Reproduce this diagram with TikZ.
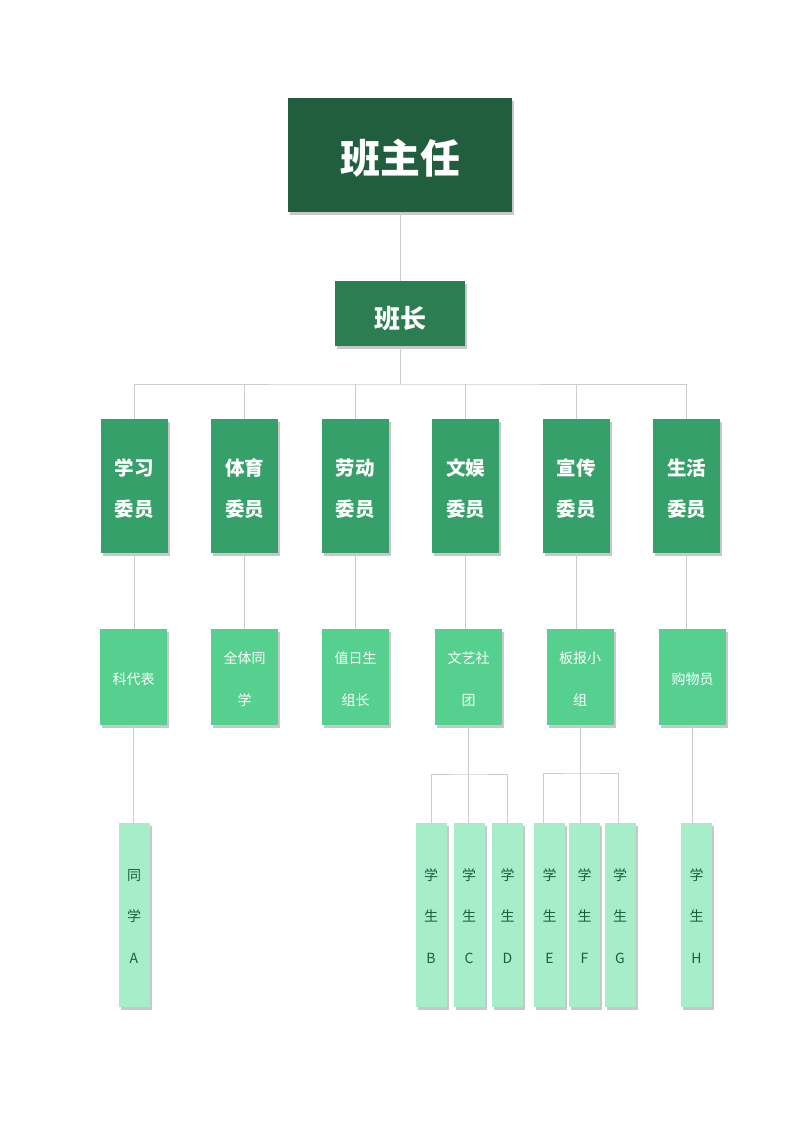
\documentclass[tikz,border=0pt]{standalone}
\usepackage{fontspec}
\newfontfamily\cjk{Noto Sans CJK SC}
\usetikzlibrary{shadows}
\definecolor{cTop}{HTML}{215E3E}
\definecolor{cMon}{HTML}{2B7D52}
\definecolor{cL3}{HTML}{35A06A}
\definecolor{cL4}{HTML}{56D08F}
\definecolor{cL5}{HTML}{A6EDC9}
\definecolor{cTxt5}{HTML}{1E5E3A}
\definecolor{cLine}{HTML}{CCCCCC}
\tikzset{
  box/.style={inner sep=0pt, align=center, drop shadow={shadow xshift=2pt, shadow yshift=-3pt, opacity=0.3, fill=black!70}},
  topbox/.style={box, fill=cTop, minimum width=224pt, minimum height=114pt,
    label={[text=white, font=\cjk\bfseries\fontsize{40}{48}\selectfont, yshift=-3pt]center:#1}},
  monbox/.style={box, fill=cMon, minimum width=130pt, minimum height=65pt,
    label={[text=white, font=\cjk\bfseries\fontsize{26}{32}\selectfont, yshift=-5pt]center:#1}},
  lvthree/.style={box, fill=cL3, minimum width=67pt, minimum height=134pt,
    label={[text=white, align=center, font=\cjk\bfseries\fontsize{19.5}{41}\selectfont, yshift=-3pt]center:#1}},
  lvfour/.style={box, fill=cL4, minimum width=67pt, minimum height=96pt,
    label={[text=white, align=center, font=\cjk\fontsize{14}{42}\selectfont, yshift=-2pt]center:#1}},
  lvfive/.style={box, fill=cL5, minimum width=31pt, minimum height=184pt,
    label={[text=cTxt5, align=center, font=\cjk\fontsize{14}{41.5}\selectfont, yshift=-1pt]center:#1}},
  conn/.style={draw=cLine, line width=0.8pt}
}
\begin{document}
\begin{tikzpicture}[x=1pt,y=-1pt]
\useasboundingbox[fill=white] (0,0) rectangle (800,1131);
% level 1-2
\node[topbox={班主任}] (head) at (400,155) {};
\node[monbox={班长}] (mon) at (400,313.5) {};
% level 3
\node[lvthree={学习\\委员}] (w1) at (134,486) {};
\node[lvthree={体育\\委员}] (w2) at (244.5,486) {};
\node[lvthree={劳动\\委员}] (w3) at (355,486) {};
\node[lvthree={文娱\\委员}] (w4) at (465.5,486) {};
\node[lvthree={宣传\\委员}] (w5) at (576,486) {};
\node[lvthree={生活\\委员}] (w6) at (686.5,486) {};
% level 4
\node[lvfour={科代表}] (m1) at (133.5,677) {};
\node[lvfour={全体同\\学}] (m2) at (244.5,677) {};
\node[lvfour={值日生\\组长}] (m3) at (355.5,677) {};
\node[lvfour={文艺社\\团}] (m4) at (468.5,677) {};
\node[lvfour={板报小\\组}] (m5) at (580,677) {};
\node[lvfour={购物员}] (m6) at (692.5,677) {};
% level 5
\node[lvfive={同\\学\\A}] (sA) at (134,915) {};
\node[lvfive={学\\生\\B}] (sB) at (431,915) {};
\node[lvfive={学\\生\\C}] (sC) at (469,915) {};
\node[lvfive={学\\生\\D}] (sD) at (507.5,915) {};
\node[lvfive={学\\生\\E}] (sE) at (549.5,915) {};
\node[lvfive={学\\生\\F}] (sF) at (584.5,915) {};
\node[lvfive={学\\生\\G}] (sG) at (620,915) {};
\node[lvfive={学\\生\\H}] (sH) at (696.5,915) {};
% connectors
\draw[conn] (head.south) -- (mon.north);
\coordinate (bus) at (400,384);
\draw[conn] (mon.south) -- (bus);
\draw[conn] (w1.north) |- (bus) -| (w6.north);
\foreach \w in {w2,w3,w4,w5} \draw[conn] (\w.north) -- (\w.north |- bus);
\foreach \w/\m in {w1/m1,w2/m2,w3/m3,w4/m4,w5/m5,w6/m6}
  \draw[conn] (\w.south) -- (\w.south |- \m.north);
\draw[conn] (m1.south) -- (m1.south |- sA.north);
\draw[conn] (m6.south) -- (m6.south |- sH.north);
\coordinate (busB) at (469,774);
\draw[conn] (m4.south) -- (m4.south |- sC.north);
\draw[conn] (sB.north) |- (busB) -| (sD.north);
\coordinate (busE) at (582,773);
\draw[conn] (m5.south) -- (m5.south |- sF.north);
\draw[conn] ([xshift=-6pt]sE.north) |- (busE) -| ([xshift=-2pt]sG.north);
\end{tikzpicture}
\end{document}
